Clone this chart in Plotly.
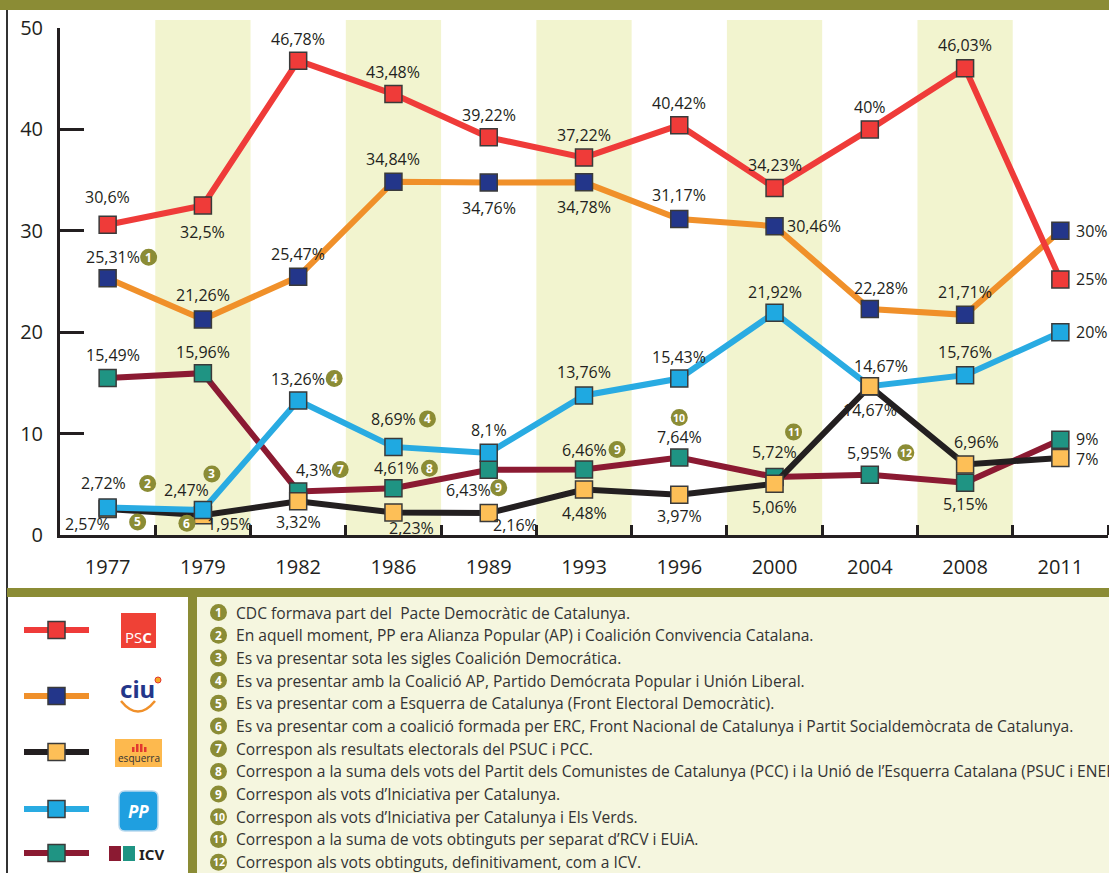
import plotly.graph_objects as go

# ---------------- data ----------------
years = ["1977", "1979", "1982", "1986", "1989", "1993", "1996", "2000", "2004", "2008", "2011"]

psc = [30.6, 32.5, 46.78, 43.48, 39.22, 37.22, 40.42, 34.23, 40, 46.03, 25.2]
psc_lab = ["30,6%", "32,5%", "46,78%", "43,48%", "39,22%", "37,22%", "40,42%", "34,23%", "40%", "46,03%", "25%"]

ciu = [25.31, 21.26, 25.47, 34.84, 34.76, 34.78, 31.17, 30.46, 22.28, 21.71, 30]
ciu_lab = ["25,31%", "21,26%", "25,47%", "34,84%", "34,76%", "34,78%", "31,17%", "30,46%", "22,28%", "21,71%", "30%"]

erc = [2.57, 1.95, 3.32, 2.23, 2.16, 4.48, 3.97, 5.06, 14.67, 6.96, 7.6]
erc_lab = ["2,57%", "1,95%", "3,32%", "2,23%", "2,16%", "4,48%", "3,97%", "5,06%", "14,67%", "6,96%", "7%"]

pp = [2.72, 2.47, 13.26, 8.69, 8.1, 13.76, 15.43, 21.92, 14.67, 15.76, 20]
pp_lab = ["2,72%", "2,47%", "13,26%", "8,69%", "8,1%", "13,76%", "15,43%", "21,92%", "14,67%", "15,76%", "20%"]

icv = [15.49, 15.96, 4.3, 4.61, 6.43, 6.46, 7.64, 5.72, 5.95, 5.15, 9.4]
icv_lab = ["15,49%", "15,96%", "4,3%", "4,61%", "6,43%", "6,46%", "7,64%", "5,72%", "5,95%", "5,15%", "9%"]

notes = [
    "CDC formava part del  Pacte Democràtic de Catalunya.",
    "En aquell moment, PP era Alianza Popular (AP) i Coalición Convivencia Catalana.",
    "Es va presentar sota les sigles Coalición Democrática.",
    "Es va presentar amb la Coalició AP, Partido Demócrata Popular i Unión Liberal.",
    "Es va presentar com a Esquerra de Catalunya (Front Electoral Democràtic).",
    "Es va presentar com a coalició formada per ERC, Front Nacional de Catalunya i Partit Socialdemòcrata de Catalunya.",
    "Correspon als resultats electorals del PSUC i PCC.",
    "Correspon a la suma dels vots del Partit dels Comunistes de Catalunya (PCC) i la Unió de l’Esquerra Catalana (PSUC i ENEP).",
    "Correspon als vots d’Iniciativa per Catalunya.",
    "Correspon als vots d’Iniciativa per Catalunya i Els Verds.",
    "Correspon a la suma de vots obtinguts per separat d’RCV i EUiA.",
    "Correspon als vots obtinguts, definitivament, com a ICV.",
]

# ---------------- styling ----------------
FONT = "Open Sans"
TXT = "#231f20"
OLIVE = "#8b8c35"
BAND = "#f2f4cf"
CREAM = "#f5f6df"
W, H = 1109, 873
L, R, T, B = 60, 1, 28, 338
PW, PH = W - L - R, H - T - B
LAB = 16


def px(xp):
    return (xp - L) / PW


def py(yp):
    return (H - B - yp) / PH


xs = list(range(len(years)))

series = {
    "PSC": dict(y=psc, lab=psc_lab, line="#ef3b39", mk="#ef3b39"),
    "CiU": dict(y=ciu, lab=ciu_lab, line="#f0902a", mk="#23368a"),
    "ERC": dict(y=erc, lab=erc_lab, line="#231f20", mk="#fdbf57"),
    "PP": dict(y=pp, lab=pp_lab, line="#29abe2", mk="#1fa9e1"),
    "ICV": dict(y=icv, lab=icv_lab, line="#8b1a32", mk="#1f9483"),
}

# label offsets (xshift, yshift, anchor)
Rt = (14, 0, "left")
offsets = {
    "PSC": [(0, 28, "center"), (0, -27, "center"), (0, 22, "center"), (0, 22, "center"), (0, 22, "center"),
            (0, 23, "center"), (0, 22, "center"), (0, 23, "center"), (0, 22, "center"), (0, 23, "center"), Rt],
    "CiU": [(5, 21, "center"), (0, 24, "center"), (0, 23, "center"), (0, 23, "center"), (0, -25, "center"),
            (0, -25, "center"), (0, 24, "center"), (10, 0, "left"), (11, 21, "center"), (0, 23, "center"), Rt],
    "ERC": [(-20, -15, "center"), (27, -9, "center"), (0, -21, "center"), (18, -16, "center"), (27, -12, "center"),
            (0, -23, "center"), (0, -21, "center"), (0, -23, "center"), (0, -24, "center"), (11, 22, "center"),
            (14, -1, "left")],
    "PP": [(-4, 24, "center"), (-16, 20, "center"), (0, 22, "center"), (0, 28, "center"), (0, 23, "center"),
           (0, 23, "center"), (0, 22, "center"), (0, 21, "center"), (11, 20, "center"), (0, 23, "center"), Rt],
    "ICV": [(5, 23, "center"), (0, 21, "center"), (16, 21, "center"), (3, 20, "center"), (-20, -20, "center"),
            (0, 20, "center"), (0, 21, "center"), (0, 25, "center"), (0, 22, "center"), (0, -21, "center"),
            (14, 1, "left")],
}

# note markers: (number, series, index, dx, dy)
note_marks = [
    (1, "CiU", 0, 41, 21), (2, "PP", 0, 40, 24), (3, "PP", 1, 9, 36), (4, "PP", 2, 36, 22),
    (4, "PP", 3, 34, 28), (5, "ERC", 0, 30, -13), (6, "ERC", 1, -16, -8), (7, "ICV", 2, 42, 22),
    (8, "ICV", 3, 36, 20), (9, "ICV", 4, 10, -18), (9, "ICV", 5, 33, 20), (10, "ICV", 6, 0, 40),
    (11, "ICV", 7, 19, 45), (12, "ICV", 8, 36, 22),
]

fig = go.Figure()

for name in ["ICV", "ERC", "PP", "CiU", "PSC"]:
    s = series[name]
    fig.add_trace(go.Scatter(
        x=xs, y=s["y"], mode="lines+markers", name=name, cliponaxis=False,
        line=dict(color=s["line"], width=6),
        marker=dict(symbol="square", size=17, color=s["mk"], line=dict(color="#3a3a3a", width=1.5)),
        showlegend=False, hoverinfo="skip"))
    if name == "PP":
        # ERC marker of 2004 drawn on top of PP's
        i = 8
        fig.add_trace(go.Scatter(
            x=[xs[i]], y=[erc[i]], mode="markers", cliponaxis=False, showlegend=False, hoverinfo="skip",
            marker=dict(symbol="square", size=17, color=series["ERC"]["mk"], line=dict(color="#3a3a3a", width=1.5))))

annotations = []
shapes = []

# value labels
for name, s in series.items():
    for i, (v, t) in enumerate(zip(s["y"], s["lab"])):
        dx, dy, anc = offsets[name][i]
        annotations.append(dict(x=xs[i], y=v, xref="x", yref="y", text=t, showarrow=False,
                                xshift=dx, yshift=dy, xanchor=anc, yanchor="middle",
                                font=dict(family=FONT, size=LAB, color=TXT)))

# note circles on chart
for num, name, i, dx, dy in note_marks:
    v = series[name]["y"][i]
    shapes.append(dict(type="circle", xref="x", yref="y", xsizemode="pixel", ysizemode="pixel",
                       xanchor=xs[i], yanchor=v, x0=dx - 8.5, x1=dx + 8.5, y0=dy - 8.5, y1=dy + 8.5,
                       fillcolor=OLIVE, line=dict(width=0), layer="above"))
    annotations.append(dict(x=xs[i], y=v, xref="x", yref="y", text="<b>%d</b>" % num, showarrow=False,
                            xshift=dx, yshift=dy, xanchor="center", yanchor="middle",
                            font=dict(family=FONT, size=12 if num < 10 else 10.5, color="white")))

# shaded year bands
for i in [1, 3, 5, 7, 9]:
    shapes.append(dict(type="rect", xref="x", yref="paper", x0=i - 0.5, x1=i + 0.5, y0=0, y1=py(20),
                       fillcolor=BAND, line=dict(width=0), layer="below"))

# frame decorations
shapes += [
    dict(type="rect", xref="paper", yref="paper", x0=px(-5), x1=px(W + 5), y0=py(0) + 0.02, y1=py(10),
         fillcolor=OLIVE, line=dict(width=0), layer="below"),
    dict(type="line", xref="paper", yref="paper", x0=px(7), x1=px(7), y0=py(10), y1=py(H + 2),
         line=dict(color="#333333", width=2)),
    dict(type="rect", xref="paper", yref="paper", x0=px(7), x1=px(W + 5), y0=py(588), y1=py(597),
         fillcolor=OLIVE, line=dict(width=0)),
    dict(type="rect", xref="paper", yref="paper", x0=px(188), x1=px(197), y0=py(597), y1=py(H + 2),
         fillcolor=OLIVE, line=dict(width=0)),
    dict(type="rect", xref="paper", yref="paper", x0=px(197), x1=px(W + 5), y0=py(597), y1=py(H + 2),
         fillcolor=CREAM, line=dict(width=0)),
]

# legend swatches
leg_y = [630, 696, 752, 809, 853]
for name, yy in zip(["PSC", "CiU", "ERC", "PP", "ICV"], leg_y):
    s = series[name]
    shapes.append(dict(type="line", xref="paper", yref="paper", x0=px(24), x1=px(89), y0=py(yy), y1=py(yy),
                       line=dict(color=s["line"], width=6)))
    shapes.append(dict(type="rect", xref="paper", yref="paper", x0=px(48), x1=px(65), y0=py(yy - 8.5),
                       y1=py(yy + 8.5), fillcolor=s["mk"], line=dict(color="#3a3a3a", width=1.5)))

# logos
shapes.append(dict(type="rect", xref="paper", yref="paper", x0=px(121), x1=px(156), y0=py(613), y1=py(648),
                   fillcolor="#ef4136", line=dict(width=0)))
annotations.append(dict(x=px(138.5), y=py(637), xref="paper", yref="paper", text="PS<b>C</b>", showarrow=False,
                        font=dict(family=FONT, size=15, color="white"), xanchor="center", yanchor="middle"))
annotations.append(dict(x=px(137), y=py(688), xref="paper", yref="paper", text="<b>ciu</b>", showarrow=False,
                        font=dict(family="Noto Sans", size=24, color="#23368a"), xanchor="center", yanchor="middle"))
shapes.append(dict(type="path", xref="paper", yref="paper",
                   path="M %f,%f Q %f,%f %f,%f" % (px(121), py(701), px(138), py(722), px(155), py(701)),
                   line=dict(color="#f0902a", width=2.5)))
shapes.append(dict(type="circle", xref="paper", yref="paper", x0=px(155), x1=px(161), y0=py(677), y1=py(683),
                   fillcolor="#f5a623", line=dict(color="#e2372f", width=1)))
shapes.append(dict(type="rect", xref="paper", yref="paper", x0=px(115), x1=px(162), y0=py(739), y1=py(767),
                   fillcolor="#fdb94e", line=dict(width=0)))
for bx, bh in [(132, 5), (136, 8), (140, 8), (144, 5)]:
    shapes.append(dict(type="rect", xref="paper", yref="paper", x0=px(bx), x1=px(bx + 2.5), y0=py(752),
                       y1=py(752 - bh), fillcolor="#e2372f", line=dict(width=0)))
annotations.append(dict(x=px(138.5), y=py(758), xref="paper", yref="paper", text="esquerra", showarrow=False,
                        font=dict(family=FONT, size=10, color="#333333"), xanchor="center", yanchor="middle"))
x0, x1, y0, y1, r = px(119), px(158), py(831), py(791), 6
rx, ry = r / PW, r / PH
shapes.append(dict(type="path", xref="paper", yref="paper",
                   path=("M %f,%f L %f,%f Q %f,%f %f,%f L %f,%f Q %f,%f %f,%f L %f,%f Q %f,%f %f,%f "
                         "L %f,%f Q %f,%f %f,%f Z") % (
                       x0 + rx, y0, x1 - rx, y0, x1, y0, x1, y0 + ry, x1, y1 - ry, x1, y1, x1 - rx, y1,
                       x0 + rx, y1, x0, y1, x0, y1 - ry, x0, y0 + ry, x0, y0, x0 + rx, y0),
                   fillcolor="#1f9fe0", line=dict(color="#b9d9ee", width=1.5)))
annotations.append(dict(x=px(138.5), y=py(811), xref="paper", yref="paper", text="<b><i>PP</i></b>",
                        showarrow=False, font=dict(family=FONT, size=17, color="white"),
                        xanchor="center", yanchor="middle"))
shapes.append(dict(type="rect", xref="paper", yref="paper", x0=px(109), x1=px(121), y0=py(846), y1=py(861),
                   fillcolor="#8b1a32", line=dict(width=0)))
shapes.append(dict(type="rect", xref="paper", yref="paper", x0=px(123), x1=px(135), y0=py(846), y1=py(861),
                   fillcolor="#1f9483", line=dict(width=0)))
annotations.append(dict(x=px(137), y=py(854), xref="paper", yref="paper", text="<b>ICV</b>", showarrow=False,
                        font=dict(family="Noto Sans", size=15, color="#231f20"), xanchor="left", yanchor="middle"))

# notes list
for k, t in enumerate(notes):
    yy = 612.5 + 22.7 * k
    shapes.append(dict(type="circle", xref="paper", yref="paper", x0=px(210), x1=px(227), y0=py(yy - 8.5),
                       y1=py(yy + 8.5), fillcolor=OLIVE, line=dict(width=0)))
    annotations.append(dict(x=px(218.5), y=py(yy), xref="paper", yref="paper", text="<b>%d</b>" % (k + 1),
                            showarrow=False, font=dict(family=FONT, size=12 if k < 9 else 10.5, color="white"),
                            xanchor="center", yanchor="middle"))
    annotations.append(dict(x=px(234), y=py(yy), xref="paper", yref="paper", text=t, showarrow=False,
                            font=dict(family=FONT, size=15.6, color="#333333"), xanchor="left", yanchor="middle"))

fig.update_layout(
    width=W, height=H, margin=dict(l=L, r=R, t=T, b=B),
    paper_bgcolor="white", plot_bgcolor="rgba(0,0,0,0)",
    font=dict(family=FONT, color=TXT),
    shapes=shapes, annotations=annotations, showlegend=False,
    xaxis=dict(range=[-0.5, 10.5], tickmode="array", tickvals=xs, ticktext=years, ticks="",
               showline=True, linecolor=TXT, linewidth=3, showgrid=False, zeroline=False,
               tickfont=dict(family=FONT, size=20, color=TXT), ticklabelstandoff=12,
               minor=dict(tickmode="array", tickvals=[i + 0.5 for i in xs], ticks="inside", ticklen=10,
                          tickwidth=3, tickcolor=TXT, showgrid=False)),
    yaxis=dict(range=[0, 50], tickmode="array", tickvals=[0, 10, 20, 30, 40, 50], ticks="inside",
               ticklen=24, tickwidth=3, tickcolor=TXT, showline=True, linecolor=TXT, linewidth=3,
               showgrid=False, zeroline=False, tickfont=dict(family=FONT, size=20, color=TXT),
               ticklabelstandoff=10),
)

fig.write_html("out.html", config={"displayModeBar": False},
               post_script="document.body.style.margin='0';document.body.style.overflow='hidden';")
